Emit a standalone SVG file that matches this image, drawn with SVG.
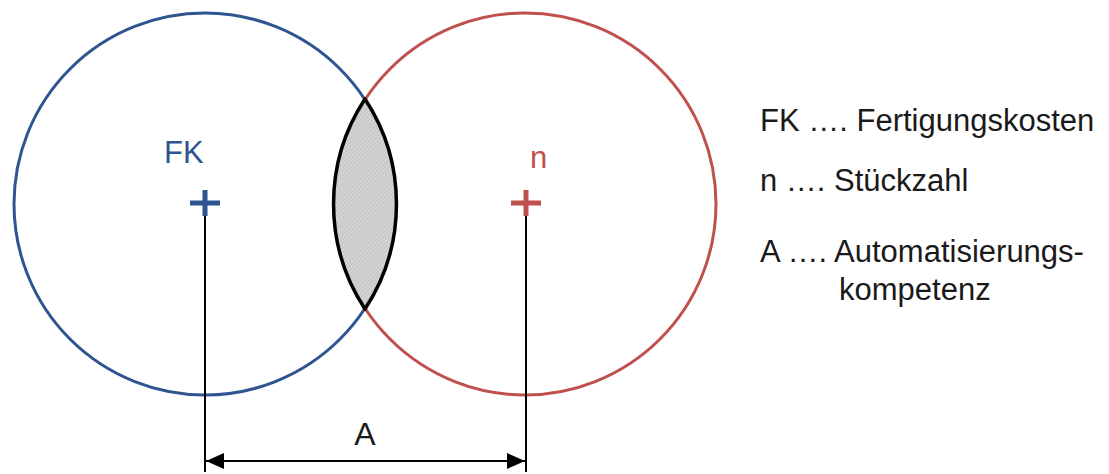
<svg xmlns="http://www.w3.org/2000/svg" width="1109" height="474" viewBox="0 0 1109 474">
<style>
.t{font-family:"Liberation Sans",Arial,sans-serif;}
.leg{font-size:31px;fill:#1a1a1a;}
.dim{stroke:#000;stroke-width:2;fill:none;}
</style>
<defs>
<pattern id="hatch" width="3" height="3" patternUnits="userSpaceOnUse" patternTransform="rotate(45)">
<rect width="3" height="3" fill="#d4d4d4"/>
<line x1="0" y1="0" x2="0" y2="3" stroke="#b0b0b0" stroke-width="1"/>
</pattern>
<marker id="arr" viewBox="0 0 18 16" refX="18" refY="8" markerWidth="18" markerHeight="16" markerUnits="userSpaceOnUse" orient="auto-start-reverse">
<path d="M0,0 L18,8 L0,16 Z" fill="#000"/>
</marker>
</defs>
<rect width="1109" height="474" fill="#fff"/>
<g id="circle-FK">
<circle cx="205" cy="204" r="191" fill="none" stroke="#2E5591" stroke-width="3"/>
<text class="t" x="164" y="163" font-size="31" fill="#2E5591">FK</text>
<path d="M190,203 H220 M205,190 V216" stroke="#2E5591" stroke-width="5"/>
</g>
<g id="circle-n">
<circle cx="525" cy="204" r="191" fill="none" stroke="#C0504D" stroke-width="3"/>
<text class="t" x="530" y="168" font-size="31" fill="#C0504D">n</text>
<path d="M511,203 H541 M526,190 V216" stroke="#C0504D" stroke-width="5"/>
</g>
<g id="overlap">
<path d="M365,99 A191,191 0 0 1 365,309 A191,191 0 0 1 365,99 Z" fill="url(#hatch)" stroke="#000" stroke-width="3.5" stroke-linejoin="round"/>
</g>
<g id="connectors">
<line class="dim" x1="205" y1="216" x2="205" y2="472"/>
<line class="dim" x1="526" y1="216" x2="526" y2="472"/>
<line class="dim" x1="206" y1="461" x2="525" y2="461" marker-start="url(#arr)" marker-end="url(#arr)"/>
</g>
<g id="label-A">
<text class="t" x="365" y="445" font-size="32" fill="#1a1a1a" text-anchor="middle">A</text>
</g>
<g id="legend">
<text class="t leg" x="760" y="131">FK …. Fertigungskosten</text>
<text class="t leg" x="760" y="191">n …. Stückzahl</text>
<text class="t leg" x="760" y="262">A …. Automatisierungs-</text>
<text class="t leg" x="839" y="300">kompetenz</text>
</g>
</svg>
